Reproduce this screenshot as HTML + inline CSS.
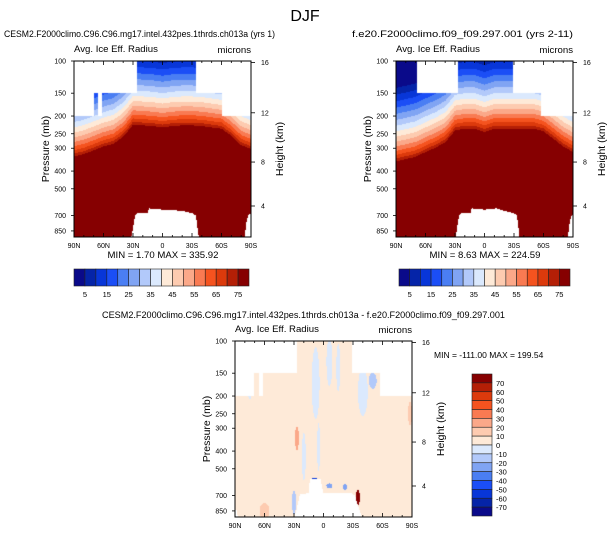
<!DOCTYPE html>
<html><head><meta charset="utf-8">
<style>
html,body{margin:0;padding:0;background:#fff;}
#wrap{position:relative;width:609px;height:538px;overflow:hidden;font-family:"Liberation Sans",Arial,sans-serif;}
canvas{position:absolute;}
svg{position:absolute;left:0;top:0;}
text{font-family:"Liberation Sans",Arial,sans-serif;fill:#000;}
</style></head>
<body>
<div id="wrap">
<canvas id="c1"></canvas>
<canvas id="c2"></canvas>
<canvas id="c3"></canvas>
<svg id="ov" width="609" height="538">
<text x="305" y="21" font-size="16" text-anchor="middle">DJF</text>
<text x="4" y="37" font-size="9.6" textLength="271" lengthAdjust="spacingAndGlyphs">CESM2.F2000climo.C96.C96.mg17.intel.432pes.1thrds.ch013a (yrs 1)</text>
<text x="352" y="37" font-size="9.6" textLength="221" lengthAdjust="spacingAndGlyphs">f.e20.F2000climo.f09_f09.297.001 (yrs 2-11)</text>
<text x="102" y="318" font-size="9.6" textLength="403" lengthAdjust="spacingAndGlyphs">CESM2.F2000climo.C96.C96.mg17.intel.432pes.1thrds.ch013a - f.e20.F2000climo.f09_f09.297.001</text>
<g id="axes"></g>
</svg>
</div>
<script>
// ---------------- data ----------------
const colors = ["#0a0a8a","#0524a8","#0836d8","#1b4ef6","#4a7ef3","#80a4f3","#b2c9fa","#dbe9fd","#feead8","#fdcbb0","#fba889","#f97a52","#f5531f","#dc3a0c","#b41f06","#860001"];
const levelsTop = [5,10,15,20,25,30,35,40,45,50,55,60,65,70,75];
const levelsDiff = [-70,-60,-50,-40,-30,-20,-10,0,10,20,30,40,50,60,70];
const cbLabelsTop = ["5","15","25","35","45","55","65","75"];
const cbLabelsDiff = ["70","60","50","40","30","20","10","0","-10","-20","-30","-40","-50","-60","-70"];
const lats = [90,80,70,60,50,40,30,20,10,0,-10,-20,-30,-40,-50,-60,-70,-80,-90];
const pRedLeft  = [340,330,315,300,290,265,228,230,232,236,232,230,230,232,236,240,262,295,310];
const pRedRight = [362,352,342,322,305,285,245,240,240,250,240,240,240,240,240,248,272,300,322];
const slopeLeft = 80, slopeRight = 78;
const curveExp = 0.73;
// top-of-data masks: [latFrom, latTo, topPressure]
const topMaskLeft  = [[90,70,200],[70,66,150],[66,62,200],[62,26,150],[26,-34,100],[-34,-60,150],[-60,-90,200]];
const topMaskRight = [[90,69,100],[69,27,150],[27,-29,100],[-29,-57,150],[-57,-90,200]];
const topMaskDiff  = [[90,71,200],[71,66,150],[66,62,200],[62,27,150],[27,-29,100],[-29,-57,150],[-57,-90,200]];
// surface masks: latitude points and surface pressure (999 = none)
const gLatLeft = [90,33,31,28,26,15,14,0,-10,-20,-30,-34,-36,-38,-83,-85,-87,-90];
const gPLeft   = [999,999,880,700,680,680,640,650,655,660,680,700,850,999,999,780,700,680];
const gLatRight = [90,31,29,26,24,14,13,0,-12,-20,-30,-33,-35,-36,-84,-86,-88,-90];
const gPRight   = [999,999,890,700,680,680,640,650,640,660,680,700,850,999,999,800,710,690];
const gLatDiff = [90,88,86,32,29,24,15,14,3,0,-10,-28,-32,-37,-41,-90];
const gPDiff   = [830,850,999,999,900,690,680,570,570,680,680,680,700,850,999,999];
// diff anomaly patches: lat, pressure, half-width lat, half-width ln p, value
const patchLat = [8,-6,-40,-50,5,20,27,-35,60,75,-88,30,9,-6,-22,-15];
const patchP   = [170,130,190,165,380,430,340,720,850,180,250,760,585,620,630,140];
const patchDL  = [4,3,5,4,1.5,2,2,2,5,2,2,2,5,3,2,2];
const patchDP  = [0.45,0.3,0.3,0.1,0.3,0.3,0.15,0.1,0.1,0.15,0.15,0.15,0.04,0.03,0.04,0.3];
const patchV   = [-5,-5,-5,-15,-5,-5,20,70,15,-5,15,-15,-60,-30,-25,-5];
const diffBase = 5;
const pTicks = [100,150,200,250,300,400,500,700,850];
const kmTicks = ["16","12","8","4"];
const kmTickP = [102,192,357,621];
const latTicks = [90,60,30,0,-30,-60,-90];
const latLabels = ["90N","60N","30N","0","30S","60S","90S"];

// --------------- geometry ---------------
const PX = 79.4, PH = 176, PW = 177;
function yOfP(p){ return Math.log(p/100)*PX; }
function pOfY(y){ return 100*Math.exp(y/PX); }
function xOfLat(lat){ return (90-lat)/180*PW; }
function interp(xs, ys, x){
  for(let i=0;i<xs.length-1;i++){ if(x<=xs[i] && x>=xs[i+1]){ const t=(xs[i]-x)/(xs[i]-xs[i+1]); return ys[i]+t*(ys[i+1]-ys[i]); } }
  return ys[ys.length-1];
}
function topOf(mask, lat){ for(const m of mask){ if(lat<=m[0] && lat>=m[1]) return m[2]; } return 100; }
function idxTop(v){ let i=0; while(i<levelsTop.length && v>=levelsTop[i]) i++; return i; }
function idxDiff(v){ let i=0; while(i<levelsDiff.length && v>=levelsDiff[i]) i++; return i; }

function drawField(id, left, top, fn, mask, gLat, gP){
  const c=document.getElementById(id);
  c.style.left=left+'px'; c.style.top=top+'px';
  c.width=PW; c.height=PH;
  const ctx=c.getContext('2d');
  ctx.fillStyle='#fff'; ctx.fillRect(0,0,PW,PH);
  for(let x=0;x<PW;x++){
    const lat=90-(x+0.5)/PW*180;
    const ptop=topOf(mask,lat), pg=interp(gLat,gP,lat);
    for(let y=0;y<PH;y++){
      const p=pOfY(y+0.5);
      if(p<ptop-0.5 || p>pg) continue;
      ctx.fillStyle=colors[fn(lat,p)];
      ctx.fillRect(x,y,1,1);
    }
  }
}
function topField(pRed, slope){
  return function(lat,p){
    const pr=interp(lats,pRed,lat);
    const v = p>=pr ? 80 : 80-slope*Math.pow(Math.log(pr/p),curveExp);
    return idxTop(v);
  };
}
function diffField(lat,p){
  let v=diffBase;
  for(let i=0;i<patchLat.length;i++){
    const dl=(lat-patchLat[i])/patchDL[i], dp=Math.log(p/patchP[i])/patchDP[i];
    if(dl*dl+dp*dp<1) v=patchV[i];
  }
  return idxDiff(v);
}
drawField('c1',74,61,topField(pRedLeft,slopeLeft),topMaskLeft,gLatLeft,gPLeft);
drawField('c2',396,61,topField(pRedRight,slopeRight),topMaskRight,gLatRight,gPRight);
drawField('c3',235,341,diffField,topMaskDiff,gLatDiff,gPDiff);

// --------------- axes ---------------
const NS='http://www.w3.org/2000/svg';
const axes=document.getElementById('axes');
function el(tag, attrs, txt){ const e=document.createElementNS(NS,tag); for(const k in attrs) e.setAttribute(k,attrs[k]); if(txt!==undefined) e.textContent=txt; axes.appendChild(e); return e; }
function frame(x0,y0,name){
  const r=el('rect',{x:x0,y:y0,width:PW,height:PH,fill:'none',stroke:'#000','stroke-width':1});
  
  
  const t1=el('text',{x:x0,y:y0-9,'font-size':9.6},'Avg. Ice Eff. Radius');
  
  
  const t2=el('text',{x:x0+PW,y:y0-8,'font-size':9.6,'text-anchor':'end'},'microns');
  
  
  pTicks.forEach(p=>{
    const y=y0+yOfP(p);
    el('line',{x1:x0-3,x2:x0,y1:y,y2:y,stroke:'#000','stroke-width':0.8});
    const t=el('text',{x:x0-8,y:y+2.5,'font-size':7,'text-anchor':'end'},String(p));
    
    
  });
  kmTicks.forEach((k,i)=>{
    const y=y0+yOfP(kmTickP[i]);
    el('line',{x1:x0+PW,x2:x0+PW+4,y1:y,y2:y,stroke:'#000','stroke-width':0.8});
    const t=el('text',{x:x0+PW+10,y:y+2.5,'font-size':7},k);
    
    
  });
  for(let lat=90;lat>=-90;lat-=10){
    const x=x0+xOfLat(lat), L=(lat%30===0)?4:2;
    el('line',{x1:x,x2:x,y1:y0,y2:y0+L,stroke:'#000','stroke-width':0.8});
    el('line',{x1:x,x2:x,y1:y0+PH,y2:y0+PH-L,stroke:'#000','stroke-width':0.8});
  }
  latTicks.forEach((lat,i)=>{
    const t=el('text',{x:x0+xOfLat(lat),y:y0+PH+11,'font-size':7,'text-anchor':'middle'},latLabels[i]);
    
    
  });
  const cy=y0+88;
  const a=el('text',{x:x0-25,y:cy,'font-size':10.5,'text-anchor':'middle',transform:`rotate(-90 ${x0-25} ${cy})`},'Pressure (mb)');
  
  
  const b=el('text',{x:x0+PW+32,y:cy,'font-size':10.5,'text-anchor':'middle',transform:`rotate(-90 ${x0+PW+32} ${cy})`},'Height (km)');
  
  
}
frame(74,61,'left-panel');
frame(396,61,'right-panel');
frame(235,341,'diff-panel');

const m1=el('text',{x:163,y:258,'font-size':9.6,'text-anchor':'middle','xml:space':'preserve'},'MIN =   1.70  MAX = 335.92');


const m2=el('text',{x:485,y:258,'font-size':9.6,'text-anchor':'middle','xml:space':'preserve'},'MIN =   8.63  MAX = 224.59');


const m3=el('text',{x:434,y:358,'font-size':8.5,'text-anchor':'start','xml:space':'preserve'},'MIN = -111.00  MAX = 199.54');



function hbar(x0,y0,w,h,name){
  const bw=w/colors.length;
  colors.forEach((c,i)=>{
    const r=el('rect',{x:x0+i*bw,y:y0,width:bw,height:h,fill:c,stroke:'#222','stroke-width':0.6});
    
    
  });
  cbLabelsTop.forEach((l,i)=>{
    const x=x0+(2*i+1)*bw;
    const t=el('text',{x:x,y:y0+h+11,'font-size':7.5,'text-anchor':'middle'},l);
    
    
  });
}
hbar(74,269,175,17,'left-colorbar');
hbar(399,269,171,17,'right-colorbar');

(function vbar(x0,y0,w,h){
  const bh=h/colors.length;
  for(let i=0;i<colors.length;i++){
    const r=el('rect',{x:x0,y:y0+i*bh,width:w,height:bh,fill:colors[colors.length-1-i],stroke:'#222','stroke-width':0.6});
    
    
  }
  cbLabelsDiff.forEach((l,i)=>{
    const t=el('text',{x:x0+w+4,y:y0+(i+1)*bh+3,'font-size':7.5},l);
    
    
  });
})(472,374,20,142);
</script>
</body></html>
